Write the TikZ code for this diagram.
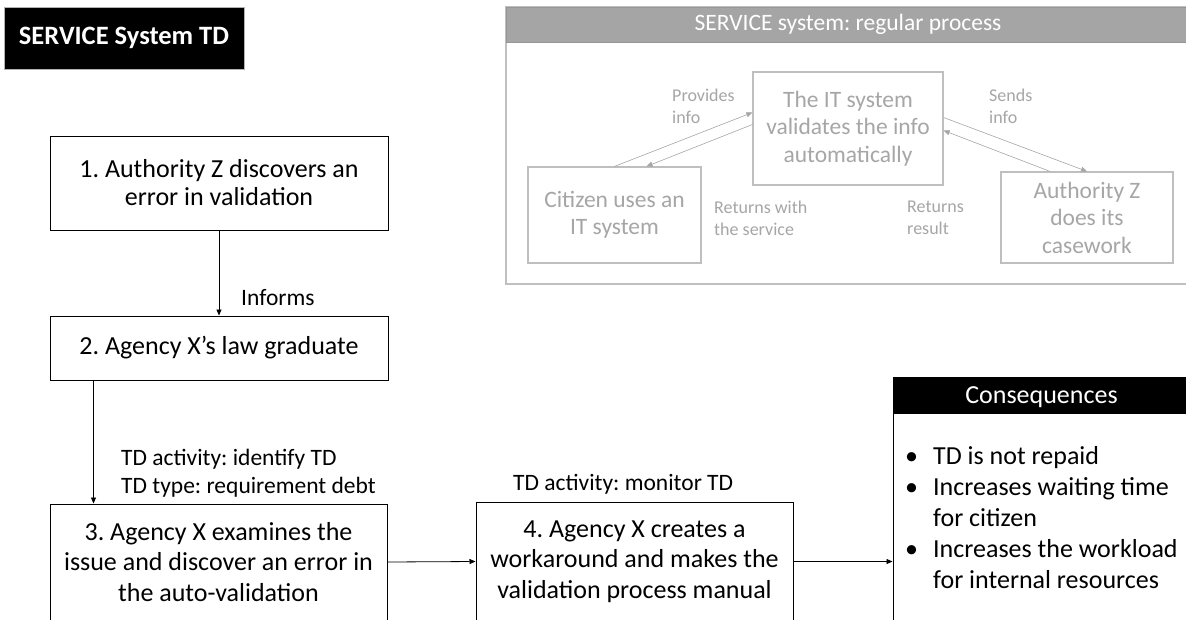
\documentclass[tikz,border=0pt]{standalone}
\usepackage{fontspec}
\setmainfont{Carlito}
\usetikzlibrary{arrows.meta}
\frenchspacing

\definecolor{fadetext}{RGB}{166,166,166}
\definecolor{fadeline}{RGB}{191,191,191}
\definecolor{fadehead}{RGB}{165,165,165}
\definecolor{fadeedge}{RGB}{150,150,150}

\tikzset{
  tip/.style={-{Triangle[length=6pt,width=5pt]}},
  stepbox/.style={draw=black, line width=1pt, fill=white, align=center, inner sep=0pt,
    font=\fontsize{26}{30}\selectfont},
  lbl/.style={anchor=west, align=left, inner sep=0pt, font=\fontsize{23.5}{28}\selectfont},
  flow/.style={line width=0.8pt, tip},
  fadebox/.style={draw=fadeline, line width=1.2pt, align=center, inner sep=0pt,
    text=fadetext, font=\fontsize{23.5}{27.5}\selectfont},
  fadelbl/.style={anchor=west, align=left, inner sep=0pt, text=fadetext,
    font=\fontsize{18}{22}\selectfont},
  fadeflow/.style={draw=fadetext, line width=0.6pt, -{Triangle[length=6pt,width=5pt]}},
}

\begin{document}
\begin{tikzpicture}[x=1pt, y=-1pt]
\clip (0,0) rectangle (1186,619);
\fill[white] (0,0) rectangle (1186,619);

% title tag
\node[fill=black, draw=gray!60, minimum width=240pt, minimum height=62pt, inner sep=0pt,
  text=white, font=\bfseries\fontsize{26.5}{30}\selectfont] (title) at (124,38) {SERVICE System TD};

% regular process panel
\node[draw=fadeline, line width=1.5pt, minimum width=684pt, minimum height=277pt, inner sep=0pt]
  (panel) at (848,145.5) {};
\node[fill=fadehead, draw=fadeedge, line width=1pt, minimum width=684pt, minimum height=35pt,
  inner sep=0pt] (panelhead) at (848,24.5) {};
\node[text=white, font=\fontsize{23.5}{27}\selectfont, inner sep=0pt] (paneltitle) at (848,24.5)
  {SERVICE system: regular process};

\node[fadebox, minimum width=173pt, minimum height=96pt] (cit) at (614.5,215)
  {Citizen uses an\\IT system};
\node[fadebox, minimum width=190pt, minimum height=113pt] (it) at (848,128.5)
  {The IT system\\validates the info\\automatically};
\node[fadebox, minimum width=172pt, minimum height=91pt] (auth) at (1087,217.5)
  {Authority Z\\does its\\casework};

\draw[fadeflow] (cit.north) -- ([yshift=16pt]it.west);
\draw[fadeflow] ([yshift=4pt]it.west) -- ([xshift=32pt]cit.north);
\draw[fadeflow] ([yshift=11pt]it.east) -- (auth.north);
\draw[fadeflow] ([xshift=-37pt]auth.north) -- ([yshift=-2pt]it.east);

\node[fadelbl] (l1) at (672,106) {Provides\\info};
\node[fadelbl] (l2) at (714,218) {Returns with\\the service};
\node[fadelbl] (l3) at (989,106) {Sends\\info};
\node[fadelbl] (l4) at (907,218) {Returns\\result};

% TD chain
\node[stepbox, minimum width=338pt, minimum height=94pt, font=\fontsize{26}{28}\selectfont]
  (b1) at (219,183) {1. Authority Z discovers an\\error in validation};
\node[stepbox, minimum width=338pt, minimum height=64pt] (b2) at (219,348)
  {2. Agency X’s law graduate};
\node[stepbox, minimum width=337pt, minimum height=116pt, font=\fontsize{26}{30.5}\selectfont]
  (b3) at (218.5,562) {3. Agency X examines the\\issue and discover an error in\\the auto-validation};
\node[stepbox, minimum width=317pt, minimum height=119pt, font=\fontsize{26}{30.5}\selectfont]
  (b4) at (634.5,561.5) {4. Agency X creates a\\workaround and makes the\\validation process manual};

% consequences
\node[draw=black, line width=1pt, fill=white, minimum width=297pt, minimum height=227pt,
  inner sep=0pt] (cons) at (1041.5,526.5) {};
\node[fill=black, minimum width=297pt, minimum height=36pt, inner sep=0pt] (conshead)
  at (1041.5,395) {};
\node[text=white, inner sep=0pt, font=\fontsize{26}{30}\selectfont] (constitle)
  at (1041.5,397) {Consequences};
\node[lbl, font=\fontsize{26}{31}\selectfont] (conslist) at (905,517.5)
  {\makebox[28pt][l]{\textbullet}TD is not repaid\\
   \makebox[28pt][l]{\textbullet}Increases waiting time\\
   \hspace*{28pt}for citizen\\
   \makebox[28pt][l]{\textbullet}Increases the workload\\
   \hspace*{28pt}for internal resources};

\draw[flow] (b1.south) -- (b2.north);
\node[lbl] (inf) at (241,298) {Informs};
\draw[flow] ([xshift=44pt]b2.south west) -- ([xshift=44pt]b3.north west);
\node[lbl] (act1) at (121,473) {TD activity: identify TD\\TD type: requirement debt};
\draw[flow] (b3.east) -- (b4.west);
\node[lbl] (act2) at (513,484) {TD activity: monitor TD};
\draw[flow] (b4.east) -- (b4.east -| cons.west);
\end{tikzpicture}
\end{document}
